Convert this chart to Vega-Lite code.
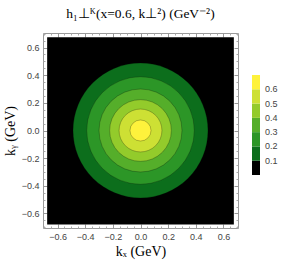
{
  "$schema": "https://vega.github.io/schema/vega-lite/v6.json",
  "autosize": {"type": "none"},
  "padding": {"left": 43, "top": 33, "right": 46, "bottom": 34},
  "width": 195,
  "height": 195,
  "background": "white",
  "title": {"text": "h₁⊥ᴷ(x=0.6, k⊥²) (GeV⁻²)", "font": "Liberation Serif", "fontSize": 13.5, "fontWeight": "normal", "color": "#000", "offset": 12},
  "config": {"view": {"stroke": "#9a9a9a", "strokeWidth": 1}},
  "datasets": {
    "region": [{"kx": -0.675, "kx2": 0.675, "ky": -0.68, "ky2": 0.675, "h": 0.05}],
    "rings": [
      {"r": 0.488, "h": 0.15},
      {"r": 0.389, "h": 0.25},
      {"r": 0.300, "h": 0.35},
      {"r": 0.223, "h": 0.45},
      {"r": 0.155, "h": 0.55},
      {"r": 0.076, "h": 0.65}
    ]
  },
  "layer": [
    {
      "data": {"name": "region"},
      "mark": {"type": "rect"},
      "encoding": {
        "x": {"field": "kx", "type": "quantitative",
          "scale": {"domain": [-0.705, 0.705], "nice": false, "zero": false},
          "axis": {"orient": "bottom", "values": [-0.6, -0.4, -0.2, 0, 0.2, 0.4, 0.6], "format": ".1f", "title": "kₓ (GeV)",
            "grid": false, "domain": false, "tickSize": -4, "tickColor": "#999", "labelPadding": 8,
            "labelFont": "Liberation Sans", "labelFontSize": 9, "labelColor": "#444",
            "titleFont": "Liberation Serif", "titleFontSize": 14, "titleFontWeight": "normal", "titleColor": "#000", "titlePadding": 3}},
        "x2": {"field": "kx2"},
        "y": {"field": "ky", "type": "quantitative",
          "scale": {"domain": [-0.705, 0.705], "nice": false, "zero": false},
          "axis": {"orient": "left", "values": [-0.6, -0.4, -0.2, 0, 0.2, 0.4, 0.6], "format": ".1f", "title": "kᵧ (GeV)",
            "grid": false, "domain": false, "tickSize": -4, "tickColor": "#999", "labelPadding": 8,
            "labelFont": "Liberation Sans", "labelFontSize": 9, "labelColor": "#444",
            "titleFont": "Liberation Serif", "titleFontSize": 14, "titleFontWeight": "normal", "titleColor": "#000", "titlePadding": 4}},
        "y2": {"field": "ky2"},
        "color": {"field": "h", "type": "quantitative",
          "scale": {"type": "threshold", "domain": [0.1, 0.2, 0.3, 0.4, 0.5, 0.6],
            "range": ["#000000", "#0C6E1C", "#2C9627", "#55AE2A", "#93CB2B", "#CDE034", "#FEF23C"]},
          "legend": {"type": "gradient", "orient": "none", "legendX": 209, "legendY": 42, "direction": "vertical",
            "gradientLength": 100, "gradientThickness": 8, "title": null, "gradientStrokeWidth": 0,
            "labelFont": "Liberation Sans", "labelFontSize": 9, "labelColor": "#444", "labelOffset": 5}}
      }
    },
    {
      "data": {"name": "rings"},
      "mark": {"type": "arc", "theta": 0, "theta2": 6.2832, "stroke": "#000", "strokeOpacity": 0.35, "strokeWidth": 0.7},
      "encoding": {
        "radius": {"field": "r", "type": "quantitative", "stack": null, "scale": {"type": "linear", "domain": [0, 0.705], "range": [0, 97.5], "zero": true}},
        "color": {"field": "h", "type": "quantitative",
          "scale": {"type": "threshold", "domain": [0.1, 0.2, 0.3, 0.4, 0.5, 0.6],
            "range": ["#000000", "#0C6E1C", "#2C9627", "#55AE2A", "#93CB2B", "#CDE034", "#FEF23C"]},
          "legend": {"type": "gradient", "orient": "none", "legendX": 209, "legendY": 42, "direction": "vertical",
            "gradientLength": 100, "gradientThickness": 8, "title": null, "gradientStrokeWidth": 0,
            "labelFont": "Liberation Sans", "labelFontSize": 9, "labelColor": "#444", "labelOffset": 5}}
      }
    },
    {
      "data": {"name": "region"},
      "mark": {"type": "point", "opacity": 0},
      "encoding": {
        "x": {"field": "kx", "type": "quantitative",
          "axis": {"orient": "top", "values": [-0.6, -0.4, -0.2, 0, 0.2, 0.4, 0.6], "labels": false, "title": null, "grid": false, "domain": false, "tickSize": -4, "tickColor": "#999"}},
        "y": {"field": "ky", "type": "quantitative",
          "axis": {"orient": "right", "values": [-0.6, -0.4, -0.2, 0, 0.2, 0.4, 0.6], "labels": false, "title": null, "grid": false, "domain": false, "tickSize": -4, "tickColor": "#999"}}
      }
    },
    {
      "data": {"name": "region"},
      "mark": {"type": "point", "opacity": 0},
      "encoding": {
        "x": {"field": "kx", "type": "quantitative",
          "axis": {"orient": "bottom", "values": [-0.7, -0.65, -0.55, -0.5, -0.45, -0.35, -0.3, -0.25, -0.15, -0.1, -0.05, 0.05, 0.1, 0.15, 0.25, 0.3, 0.35, 0.45, 0.5, 0.55, 0.65, 0.7], "labels": false, "title": null, "grid": false, "domain": false, "tickSize": -2, "tickColor": "#aaa"}},
        "y": {"field": "ky", "type": "quantitative",
          "axis": {"orient": "left", "values": [-0.7, -0.65, -0.55, -0.5, -0.45, -0.35, -0.3, -0.25, -0.15, -0.1, -0.05, 0.05, 0.1, 0.15, 0.25, 0.3, 0.35, 0.45, 0.5, 0.55, 0.65, 0.7], "labels": false, "title": null, "grid": false, "domain": false, "tickSize": -2, "tickColor": "#aaa"}}
      }
    },
    {
      "data": {"name": "region"},
      "mark": {"type": "point", "opacity": 0},
      "encoding": {
        "x": {"field": "kx", "type": "quantitative",
          "axis": {"orient": "top", "values": [-0.7, -0.65, -0.55, -0.5, -0.45, -0.35, -0.3, -0.25, -0.15, -0.1, -0.05, 0.05, 0.1, 0.15, 0.25, 0.3, 0.35, 0.45, 0.5, 0.55, 0.65, 0.7], "labels": false, "title": null, "grid": false, "domain": false, "tickSize": -2, "tickColor": "#aaa"}},
        "y": {"field": "ky", "type": "quantitative",
          "axis": {"orient": "right", "values": [-0.7, -0.65, -0.55, -0.5, -0.45, -0.35, -0.3, -0.25, -0.15, -0.1, -0.05, 0.05, 0.1, 0.15, 0.25, 0.3, 0.35, 0.45, 0.5, 0.55, 0.65, 0.7], "labels": false, "title": null, "grid": false, "domain": false, "tickSize": -2, "tickColor": "#aaa"}}
      }
    }
  ],
  "resolve": {"axis": {"x": "independent", "y": "independent"}}
}
